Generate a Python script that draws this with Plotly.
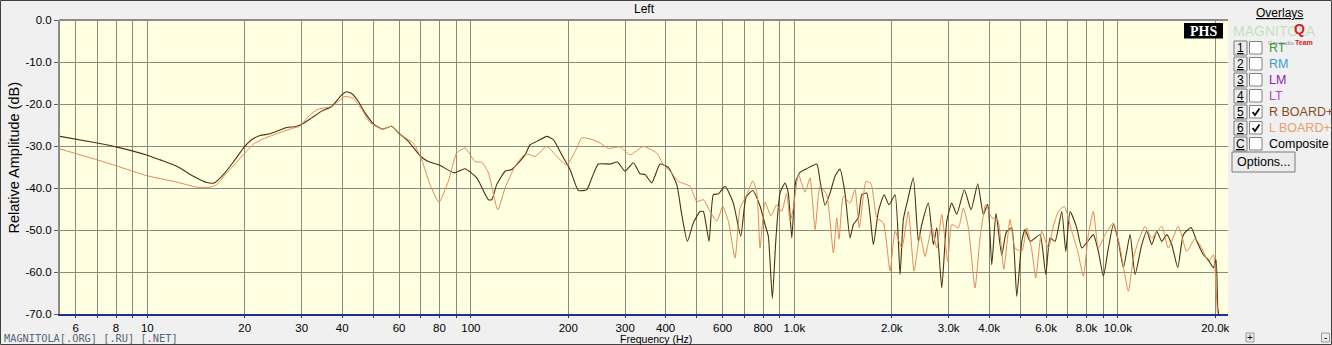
import numpy as np
import plotly.graph_objects as go

# ---------------- data ----------------
freq_r = [5.37, 7.0, 8.0, 10.0, 10.95, 12.33, 13.87, 15.26, 16.08, 17.18, 18.44, 20.0, 21.0, 22.3,
          23.95, 26.96, 28.6, 29.9, 32.2, 34.6, 37.15, 39.8, 41.3, 42.8, 44.9, 47.1, 50.1, 53.25,
          56.9, 59.85, 64.1, 70.0, 73.9, 80.1, 88.9, 96.0, 104.3, 113.3, 116.0, 120.2, 127.6,
          133.8, 147.1, 152.4, 159.9, 171.7, 179.9, 191.0, 202.6, 215.0, 228.2, 236.5, 247.9,
          269.4, 283.8, 299.8, 318.0, 333.4, 345.5, 362.4, 384.5, 407.8, 433.0, 448.6, 466.9,
          487.3, 511.1, 523.3, 544.9, 561.9, 582.3, 610.7, 647.8, 682.8, 709.0, 743.6, 783.3,
          811.6, 831, 855, 876, 903, 936, 958, 982, 1010, 1041, 1092, 1173, 1201, 1244, 1289,
          1336, 1384, 1434, 1486, 1522, 1577, 1616, 1674, 1755, 1818, 1894, 1962, 2048, 2122,
          2172, 2241, 2332, 2417, 2476, 2596, 2690, 2756, 2855, 2959, 3066, 3177, 3354, 3518,
          3689, 3839, 3961, 4076, 4200, 4376, 4520, 4699, 4870, 5047, 5166, 5354, 5548, 5749,
          5987, 6172, 6396, 6708, 6903, 7118, 7464, 7734, 8071, 8400, 8705, 9020, 9347, 9685,
          10036, 10400, 10908, 11304, 11854, 12284, 12729, 13191, 13669, 14164, 14678, 15317,
          15942, 16838, 17539, 18378, 19044, 19734, 20120, 20364, 20500]
db_r = [-27.7, -29.3, -30.2, -32.2, -33.3, -34.8, -37.2, -38.7, -38.8, -36.8, -33.8, -30.1, -28.5,
        -27.5, -27.1, -25.6, -25.4, -24.9, -23.3, -21.7, -20.6, -17.9, -17.1, -17.5, -19.4, -22.1,
        -24.8, -26.0, -25.3, -26.9, -28.9, -32.5, -33.7, -34.6, -36.4, -35.4, -37.6, -42.8, -42.8,
        -39.2, -36.0, -35.6, -32.1, -29.7, -28.9, -27.7, -28.5, -32.1, -35.6, -40.6, -40.4, -37.6,
        -34.3, -34.3, -33.8, -36.0, -34.0, -36.6, -36.8, -38.8, -34.3, -35.1, -39.2, -46.3, -52.7,
        -48.3, -45.6, -45.6, -52.7, -41.6, -41.4, -39.6, -43.6, -51.5, -42.2, -40.6, -44.3, -48.7,
        -51.5, -66.3, -52.7, -41.2, -38.8, -41.2, -51.9, -38.4, -36.3, -35.4, -34.3, -38.4, -44.1,
        -41.2, -37.2, -35.5, -41.2, -51.9, -48.7, -47.1, -41.6, -41.2, -53.5, -45.6, -41.6, -44.0,
        -41.6, -60.6, -47.5, -42.8, -37.6, -52.7, -48.7, -43.6, -53.5, -49.5, -63.8, -47.9, -43.6,
        -46.3, -40.4, -45.2, -39.0, -46.3, -43.9, -58.3, -46.0, -56.0, -50.5, -49.5, -65.8, -52.7,
        -49.9, -52.7, -51.9, -51.1, -60.6, -51.9, -52.7, -45.6, -55.1, -45.6, -49.5, -54.3, -52.7,
        -51.1, -55.1, -61.0, -54.3, -48.7, -52.7, -59.0, -51.1, -60.6, -53.5, -50.3, -53.5, -50.3,
        -52.7, -51.1, -53.5, -59.0, -51.1, -49.4, -52.7, -55.9, -57.1, -59.0, -57.1, -68.6, -70.0]

freq_l = [5.37, 7.0, 8.0, 10.0, 12.33, 14.21, 15.62, 16.39, 17.6, 18.9, 20.0, 21.3, 22.8, 25.1,
          28.3, 29.6, 31.46, 33.78, 37.15, 40.84, 43.34, 46.0, 48.8, 53.25, 56.9, 61.15, 66.4,
          70.2, 74.8, 79.7, 85.2, 90.4, 96.0, 103.0, 108.1, 113.3, 121.1, 127.6, 137.0, 147.1,
          152.4, 158.0, 171.7, 184.4, 197.9, 210.0, 220.2, 233.6, 250.9, 266.1, 289.3, 310.6,
          341.4, 375.6, 393.6, 412.8, 437.9, 476.0, 499.2, 523.3, 548.8, 575.6, 600.8, 625.2,
          655.7, 679.4, 712.6, 743.6, 765.1, 783.3, 811.6, 847, 882, 914, 947, 970, 993, 1029,
          1079, 1118, 1159, 1201, 1259, 1320, 1352, 1375, 1418, 1486, 1540, 1588, 1666, 1726,
          1798, 1884, 1976, 2048, 2148, 2251, 2344, 2447, 2535, 2659, 2756, 2855, 2980, 3066,
          3214, 3330, 3451, 3619, 3750, 3905, 4076, 4250, 4440, 4642, 4811, 5047, 5229, 5418,
          5576, 5816, 6098, 6319, 6548, 6835, 7201, 7516, 7822, 8105, 8400, 8705, 9129, 9685,
          10157, 10777, 11165, 11570, 12139, 12729, 13669, 14326, 15382, 16331, 17327, 18169,
          19044, 19734, 20073, 20302]
db_l = [-30.7, -33.3, -34.7, -37.1, -38.6, -39.8, -39.8, -39.2, -36.4, -33.8, -31.7, -29.5, -28.3,
        -27.1, -25.7, -25.3, -22.9, -21.2, -20.6, -18.2, -18.7, -21.3, -24.4, -26.0, -25.3, -27.5,
        -29.3, -32.9, -39.2, -43.4, -38.4, -31.7, -30.5, -33.7, -33.9, -36.4, -45.2, -40.0, -34.8,
        -31.9, -32.1, -32.5, -30.1, -32.5, -34.5, -31.3, -28.1, -28.3, -29.3, -30.6, -30.2, -32.1,
        -30.1, -31.7, -34.4, -36.0, -38.4, -39.6, -43.2, -42.8, -45.6, -47.9, -44.4, -47.9, -56.7,
        -44.8, -41.6, -38.3, -40.8, -54.3, -43.4, -46.7, -44.0, -45.6, -41.2, -47.9, -44.8, -36.8,
        -41.0, -37.6, -49.9, -39.6, -41.6, -55.5, -47.1, -52.2, -42.0, -43.6, -40.4, -49.5, -38.4,
        -39.0, -47.1, -48.3, -59.8, -50.3, -54.3, -45.6, -59.8, -51.1, -56.3, -49.5, -54.3, -46.3,
        -57.5, -48.7, -49.5, -44.8, -49.5, -63.8, -51.9, -43.9, -47.1, -47.5, -59.3, -47.5, -54.3,
        -55.1, -49.5, -54.7, -61.4, -50.3, -54.3, -49.1, -45.6, -44.4, -50.3, -55.1, -61.0, -51.1,
        -45.6, -54.3, -51.1, -48.3, -54.3, -64.6, -56.7, -52.7, -49.1, -51.9, -49.1, -54.3, -49.1,
        -55.1, -52.0, -54.3, -57.5, -55.9, -62.2, -69.8]

x_tickvals = [6, 7, 8, 9, 10, 20, 30, 40, 50, 60, 70, 80, 90, 100, 200, 300, 400, 500, 600, 700,
              800, 900, 1000, 2000, 3000, 4000, 5000, 6000, 7000, 8000, 9000, 10000, 20000]
x_ticktext = ["6", "", "8", "", "10", "20", "30", "40", "", "60", "", "80", "", "100", "200",
              "300", "400", "", "600", "", "800", "", "1.0k", "2.0k", "3.0k", "4.0k", "", "6.0k",
              "", "8.0k", "", "10.0k", "20.0k"]
y_tickvals = [0, -10, -20, -30, -40, -50, -60, -70]
y_ticktext = ["0.0", "-10.0", "-20.0", "-30.0", "-40.0", "-50.0", "-60.0", "-70.0"]

overlay_nums = ["1", "2", "3", "4", "5", "6", "C"]
overlay_names = ["RT", "RM", "LM", "LT", "R BOARD+SUB", "L BOARD+SUB", "Composite"]
overlay_colors = ["#3a9a3a", "#3aa0c8", "#8b22a8", "#c23ed2", "#8b4a1a", "#e8a070", "#000000"]
overlay_checked = [False, False, False, False, True, True, False]

# ---------------- geometry helpers ----------------
W, H = 1332, 345
PL, PR, PT, PB = 60, 1228, 20, 314
FONT = "Liberation Sans, Arial, sans-serif"


def px(x):
    return (x - PL) / (PR - PL)


def py(y):
    return (PB - y) / (PB - PT)


fig = go.Figure()
fig.add_trace(go.Scatter(x=freq_r, y=db_r, mode="lines", name="R BOARD+SUB",
                         line=dict(color="#4b3210", width=1.1, shape="spline", smoothing=0.5)))
fig.add_trace(go.Scatter(x=freq_l, y=db_l, mode="lines", name="L BOARD+SUB",
                         line=dict(color="#e38a55", width=1.0, shape="spline", smoothing=0.5)))

shapes = []
ann = []

# top border of plot
shapes.append(dict(type="line", xref="paper", yref="paper", x0=px(59), x1=px(PR), y0=py(20),
                   y1=py(20), line=dict(color="#8c8c8c", width=2)))
# outer frame of the window
shapes.append(dict(type="rect", xref="paper", yref="paper", x0=px(0.5), x1=px(1331.5),
                   y0=py(344.5), y1=py(0.5), line=dict(color="#404040", width=1)))

# titles
ann.append(dict(text="Left", x=px(644), y=py(9), xref="paper", yref="paper", showarrow=False,
                xanchor="center", yanchor="middle", font=dict(size=12, family=FONT)))
ann.append(dict(text="Frequency (Hz)", x=px(656), y=py(339), xref="paper", yref="paper",
                showarrow=False, xanchor="center", yanchor="middle", font=dict(size=10.5, family=FONT)))
ann.append(dict(text="Relative Amplitude (dB)", x=px(13.5), y=py(158), xref="paper", yref="paper",
                showarrow=False, xanchor="center", yanchor="middle", textangle=-90,
                font=dict(size=14.5, family=FONT)))
ann.append(dict(text="MAGNITOLA[.ORG] [.RU] [.NET]", x=px(2), y=py(338), xref="paper", yref="paper",
                showarrow=False, xanchor="left", yanchor="middle",
                font=dict(size=10.3, family="DejaVu Sans Mono, monospace", color="#55657e")))

# right panel
ann.append(dict(text="<u>Overlays</u>", x=px(1279), y=py(13), xref="paper", yref="paper",
                showarrow=False, xanchor="center", yanchor="middle", font=dict(size=12, family=FONT)))
# watermark
ann.append(dict(text="MAGNITOLA", x=px(1274), y=py(31), xref="paper", yref="paper", showarrow=False,
                xanchor="center", yanchor="middle",
                font=dict(size=14, family=FONT, color="rgba(110,190,110,0.35)")))
ann.append(dict(text="<b>Q</b>", x=px(1299), y=py(29), xref="paper", yref="paper", showarrow=False,
                xanchor="center", yanchor="middle", font=dict(size=14, family=FONT, color="#d02020")))
ann.append(dict(text="<b>Team</b>", x=px(1304), y=py(43), xref="paper", yref="paper", showarrow=False,
                xanchor="center", yanchor="middle", font=dict(size=7, family=FONT, color="#d02020")))
ann.append(dict(text="Car audio", x=px(1281), y=py(43), xref="paper", yref="paper", showarrow=False,
                xanchor="center", yanchor="middle", font=dict(size=6, family=FONT, color="#909090")))
# PHS logo
shapes.append(dict(type="rect", xref="paper", yref="paper", x0=px(1184), x1=px(1223), y0=py(38.5),
                   y1=py(23), fillcolor="black", line=dict(width=0)))
ann.append(dict(text="<b>PHS</b>", x=px(1203.5), y=py(31), xref="paper", yref="paper",
                showarrow=False, xanchor="center", yanchor="middle",
                font=dict(size=14, family="Liberation Serif, Times New Roman, serif", color="white")))

row_y = [48, 64, 80, 96, 112, 128, 144]
for num, name, col, chk, ry in zip(overlay_nums, overlay_names, overlay_colors, overlay_checked, row_y):
    # raised button
    shapes.append(dict(type="rect", xref="paper", yref="paper", x0=px(1234), x1=px(1247),
                       y0=py(ry + 7), y1=py(ry - 7), fillcolor="#ececec",
                       line=dict(color="#7a7a7a", width=1)))
    ann.append(dict(text="<u>" + num + "</u>", x=px(1240.5), y=py(ry), xref="paper", yref="paper",
                    showarrow=False, xanchor="center", yanchor="middle",
                    font=dict(size=12, family=FONT, color="black")))
    # checkbox
    shapes.append(dict(type="rect", xref="paper", yref="paper", x0=px(1249.5), x1=px(1262),
                       y0=py(ry + 6), y1=py(ry - 6.5), fillcolor="white",
                       line=dict(color="#808080", width=1)))
    if chk:
        path = "M {:.5f} {:.5f} L {:.5f} {:.5f} L {:.5f} {:.5f}".format(
            px(1252.5), py(ry), px(1255), py(ry + 3), px(1259.5), py(ry - 3.5))
        shapes.append(dict(type="path", xref="paper", yref="paper", path=path,
                           line=dict(color="black", width=1.8)))
    ann.append(dict(text=name, x=px(1267), y=py(ry), xref="paper", yref="paper", showarrow=False,
                    xanchor="left", yanchor="middle", font=dict(size=12.5, family=FONT, color=col)))

# Options button
shapes.append(dict(type="rect", xref="paper", yref="paper", x0=px(1232), x1=px(1295), y0=py(172),
                   y1=py(152), fillcolor="#ececec", line=dict(color="#7a7a7a", width=1)))
ann.append(dict(text="Options...", x=px(1263.5), y=py(162), xref="paper", yref="paper",
                showarrow=False, xanchor="center", yanchor="middle",
                font=dict(size=12.5, family=FONT, color="black")))

# small zoom buttons bottom right
for bx, sym in [(1250, "+"), (1325.5, "-")]:
    shapes.append(dict(type="rect", xref="paper", yref="paper", x0=px(bx - 4), x1=px(bx + 4),
                       y0=py(342), y1=py(333), fillcolor="#ececec",
                       line=dict(color="#9a9a9a", width=1)))
    ann.append(dict(text=sym, x=px(bx), y=py(337.5), xref="paper", yref="paper", showarrow=False,
                    xanchor="center", yanchor="middle", font=dict(size=10, family=FONT)))

fig.update_layout(
    width=W, height=H,
    margin=dict(l=PL, r=W - PR, t=PT, b=H - PB, pad=0),
    paper_bgcolor="#f0f0f0", plot_bgcolor="#ffffe1",
    showlegend=False,
    font=dict(family=FONT, size=11.5, color="black"),
    shapes=shapes, annotations=ann,
    xaxis=dict(type="log", range=[np.log10(5.37), np.log10(21900)], tickmode="array",
               tickvals=x_tickvals, ticktext=x_ticktext, showgrid=True, gridcolor="#8a8a7e",
               gridwidth=1, showline=True, linecolor="#1f2f8f", linewidth=2, ticks="outside",
               ticklen=2, tickcolor="#1f2f8f", zeroline=False, tickfont=dict(size=11.5)),
    yaxis=dict(range=[-70, 0], tickmode="array", tickvals=y_tickvals, ticktext=y_ticktext,
               showgrid=True, gridcolor="#8a8a7e", gridwidth=1, showline=True, linecolor="#8c8c8c",
               linewidth=2, ticks="outside", ticklen=4, tickcolor="#606060", zeroline=False,
               tickfont=dict(size=11.5)),
)

fig.write_html("out.html", config={"displayModeBar": False},
               post_script="document.body.style.margin='0';document.body.style.overflow='hidden';")
